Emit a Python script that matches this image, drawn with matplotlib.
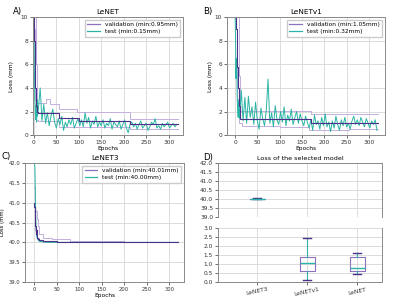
import numpy as np
import matplotlib
matplotlib.use("Agg")
import matplotlib.pyplot as plt
from matplotlib.lines import Line2D

# ---------------- data ----------------
early_epochs = [0, 1, 2, 3, 4, 5, 6, 7, 8]
late_epochs = list(range(10, 320, 4))
test_epochs = early_epochs + late_epochs

# Panel A (LeNET)
a_test = [10.5, 6.0, 3.2, 2.0, 1.3, 2.5, 1.1, 3.0, 1.6,
          2.2, 4.0, 1.2, 2.6, 1.0, 1.9, 0.8, 1.6, 2.2, 1.1,
          0.6, 1.4, 0.9, 1.6, 0.4, 1.1, 0.7, 1.3, 0.9, 1.5, 0.6, 1.0, 1.4,
          0.8, 1.3, 0.7, 1.9, 1.0, 1.5, 0.6, 1.2, 0.9, 1.6, 0.7, 1.1, 0.8,
          1.3, 0.6, 1.0, 0.8, 1.4, 0.5, 1.1, 0.9, 0.7, 1.2, 0.5, 0.9, 1.3, 0.6, 0.2, 0.9,
          1.1, 0.7, 1.0, 0.5, 0.9, 1.2, 0.6, 0.8, 1.0, 0.4, 0.7, 1.1, 0.9, 1.4, 0.6, 0.8,
          0.5, 1.0, 0.7, 0.9, 1.1, 0.6, 0.8, 1.0, 0.7, 0.9]
a_val_ep = [0, 1, 2, 3, 4, 5, 6, 10, 55, 100, 215, 320]
a_val = [10.0, 8.0, 6.0, 4.0, 3.5, 2.5, 2.0, 1.85, 1.45, 1.2, 0.95, 0.95]
a_up_ep = [0, 5, 8, 28, 35, 55, 95, 215, 320]
a_up = [10.0, 6.0, 2.7, 3.1, 2.6, 2.2, 1.95, 1.35, 1.35]
a_lo_ep = [0, 3, 5, 10, 55, 215, 320]
a_lo = [9.0, 3.0, 1.3, 1.2, 0.7, 0.55, 0.55]

# Panel B (LeNETv1)
b_test = [10.5, 8.5, 4.8, 6.5, 5.5, 3.0, 2.2, 1.5, 3.0,
          1.4, 3.8, 1.2, 3.2, 1.0, 3.3, 1.5, 2.4, 0.9, 2.8,
          1.2, 0.5, 2.3, 1.4, 0.8, 2.1, 4.75, 1.0, 1.9, 0.7, 2.5, 1.3, 0.9,
          2.0, 1.1, 2.4, 0.8, 1.7, 1.2, 2.2, 0.9, 1.5, 2.0, 1.0, 1.8, 1.2,
          0.8, 1.6, 1.1, 0.6, 1.3, 0.4, 1.7, 0.9, 1.2, 0.5, 1.5, 0.8, 1.8, 0.7, 1.1, 0.3,
          1.2, 0.6, 1.6, 0.9, 0.4, 1.3, 0.8, 1.5, 0.7, 1.0, 0.5, 1.2, 1.6, 0.9, 1.3, 0.8,
          1.5, 1.1, 0.7, 1.4, 1.0, 0.6, 1.2, 0.9, 1.3, 0.4]
b_val_ep = [0, 2, 4, 5, 7, 9, 12, 170, 320]
b_val = [10.0, 9.0, 8.4, 5.8, 4.0, 2.5, 1.38, 1.05, 1.05]
b_up_ep = [0, 8, 12, 170, 320]
b_up = [10.0, 5.0, 2.05, 1.75, 1.75]
b_lo_ep = [0, 5, 10, 15, 100, 165, 255, 320]
b_lo = [9.0, 3.0, 1.0, 0.8, 0.65, 0.45, 0.5, 0.5]

# Panel C (LeNET3)
c_test_ep = [0, 1, 2, 3, 4, 5, 6, 8, 10, 15, 20, 30, 50, 100, 200, 320]
c_test = [42.3, 42.0, 41.9, 41.2, 40.6, 40.3, 40.15, 40.08, 40.04, 40.02, 40.01,
          40.0, 40.0, 40.0, 40.0, 40.0]
c_val_ep = [0, 1, 2, 3, 4, 5, 6, 8, 10, 20, 50, 100, 320]
c_val = [41.0, 40.9, 40.7, 40.4, 40.2, 40.3, 40.1, 40.08, 40.05, 40.03, 40.02, 40.01, 40.01]
c_up_ep = [0, 3, 6, 8, 12, 20, 40, 80, 200, 320]
c_up = [41.4, 40.8, 40.6, 40.4, 40.22, 40.12, 40.08, 40.04, 40.02, 40.02]
c_lo_ep = [0, 3, 6, 10, 20, 320]
c_lo = [40.8, 40.3, 40.1, 40.03, 40.0, 40.0]

# Panel D (box stats)
models = ["LeNET3", "LeNETv1", "LeNET"]
whis_lo = [40.0, 0.10, 0.43]
q1 = [40.0, 0.60, 0.63]
med = [40.0, 1.05, 0.78]
q3 = [40.01, 1.38, 1.37]
whis_hi = [40.05, 2.47, 1.62]

# ---------------- style ----------------
TEAL = "#2bb5a6"
DARK = "#4b3288"
MID = "#8c70bd"
LIGHT = "#c4afdf"
GRID = "#d6d6d6"
SPINE = "#8a8a8a"
TFS = 4.2

plt.rcParams["font.family"] = ["DejaVu Sans"]

fig = plt.figure(figsize=(4.0, 3.05), dpi=100)


def style(ax, fs=TFS):
    ax.grid(True, color=GRID, linewidth=0.6)
    ax.set_axisbelow(True)
    for s in ax.spines.values():
        s.set_color(SPINE)
        s.set_linewidth(0.7)
    ax.tick_params(labelsize=fs, length=2, width=0.5, pad=1.5, colors="#333333")


def panel(rect, title, tep, tv, vep, vv, uep, uv, lep, lv, ylim, yticks, vmin, tmin, xlim, ylab_x, fs=TFS):
    ax = fig.add_axes(rect)
    style(ax, fs)
    ax.plot(uep, uv, color=LIGHT, lw=0.7, drawstyle="steps-post")
    ax.plot(lep, lv, color=LIGHT, lw=0.7, drawstyle="steps-post")
    ax.plot(tep, tv, color=TEAL, lw=0.7)
    ax.plot(vep, vv, color=DARK, lw=0.8, drawstyle="steps-post")
    ax.set_xlim(*xlim)
    ax.set_ylim(*ylim)
    ax.set_yticks(yticks)
    ax.set_xticks([0, 50, 100, 150, 200, 250, 300])
    ax.set_title(title, fontsize=5.2, pad=2)
    ax.set_ylabel("Loss (mm)", fontsize=fs)
    ax.yaxis.set_label_coords(ylab_x, 0.5)
    ax.set_xlabel("Epochs", fontsize=4.2, labelpad=1)
    handles = [Line2D([], [], color=MID, lw=0.9), Line2D([], [], color=TEAL, lw=0.9)]
    ax.legend(handles, ["validation (min:%smm)" % vmin, "test (min:%smm)" % tmin],
              loc="upper right", fontsize=4.2, frameon=True, framealpha=1,
              edgecolor="#cccccc", handlelength=2.2, borderpad=0.4,
              labelspacing=0.3, fancybox=False)
    return ax


panel([0.0825, 0.557, 0.375, 0.387], "LeNET", test_epochs, a_test, a_val_ep, a_val,
      a_up_ep, a_up, a_lo_ep, a_lo, (0, 10), [0, 2, 4, 6, 8, 10], "0.95", "0.15", (-2, 332), -0.13)
panel([0.5675, 0.557, 0.395, 0.387], "LeNETv1", test_epochs, b_test, b_val_ep, b_val,
      b_up_ep, b_up, b_lo_ep, b_lo, (0, 10), [0, 2, 4, 6, 8, 10], "1.05", "0.32", (-18, 336), -0.09)
axc = panel([0.0625, 0.0754, 0.3975, 0.39], "LeNET3", c_test_ep, c_test, c_val_ep, c_val,
            c_up_ep, c_up, c_lo_ep, c_lo, (39.0, 42.0),
            [39.0, 39.5, 40.0, 40.5, 41.0, 41.5, 42.0], "40.01", "40.00", (-20, 333), -0.125, fs=3.8)
axc.yaxis.set_major_formatter(matplotlib.ticker.FormatStrFormatter("%.1f"))

# Panel D: broken box plot
stats = [dict(label=m, whislo=w0, q1=a, med=b, q3=c, whishi=w1, fliers=[])
         for m, w0, a, b, c, w1 in zip(models, whis_lo, q1, med, q3, whis_hi)]
axu = fig.add_axes([0.545, 0.2885, 0.41, 0.177])
axl = fig.add_axes([0.545, 0.0754, 0.41, 0.177])
for ax, lim in ((axu, (39.0, 42.0)), (axl, (0.0, 3.0))):
    style(ax)
    ax.bxp(stats, widths=0.3, showfliers=False, patch_artist=False,
           boxprops=dict(color=MID, lw=0.8),
           medianprops=dict(color=TEAL, lw=1.0),
           whiskerprops=dict(color=TEAL, lw=0.8),
           capprops=dict(color=DARK, lw=1.0))
    ax.set_xlim(0.22, 3.5)
    ax.set_ylim(*lim)
    ax.set_yticks(np.arange(lim[0], lim[1] + 0.01, 0.5))
    ax.yaxis.set_major_formatter(matplotlib.ticker.FormatStrFormatter("%.1f"))
axu.spines["bottom"].set_visible(False)
axu.tick_params(axis="x", bottom=False, labelbottom=False)
axl.spines["top"].set_visible(False)
axl.set_xticks([1, 2, 3])
axl.set_xticklabels(models, rotation=12, fontsize=TFS)
axu.set_title("Loss of the selected model", fontsize=4.6, pad=2)

for lbl, x, y in (("A)", 0.032, 0.978), ("B)", 0.508, 0.978), ("C)", 0.005, 0.5), ("D)", 0.508, 0.497)):
    fig.text(x, y, lbl, fontsize=6.2, va="top", ha="left")

fig.savefig("out.png", dpi=100)
